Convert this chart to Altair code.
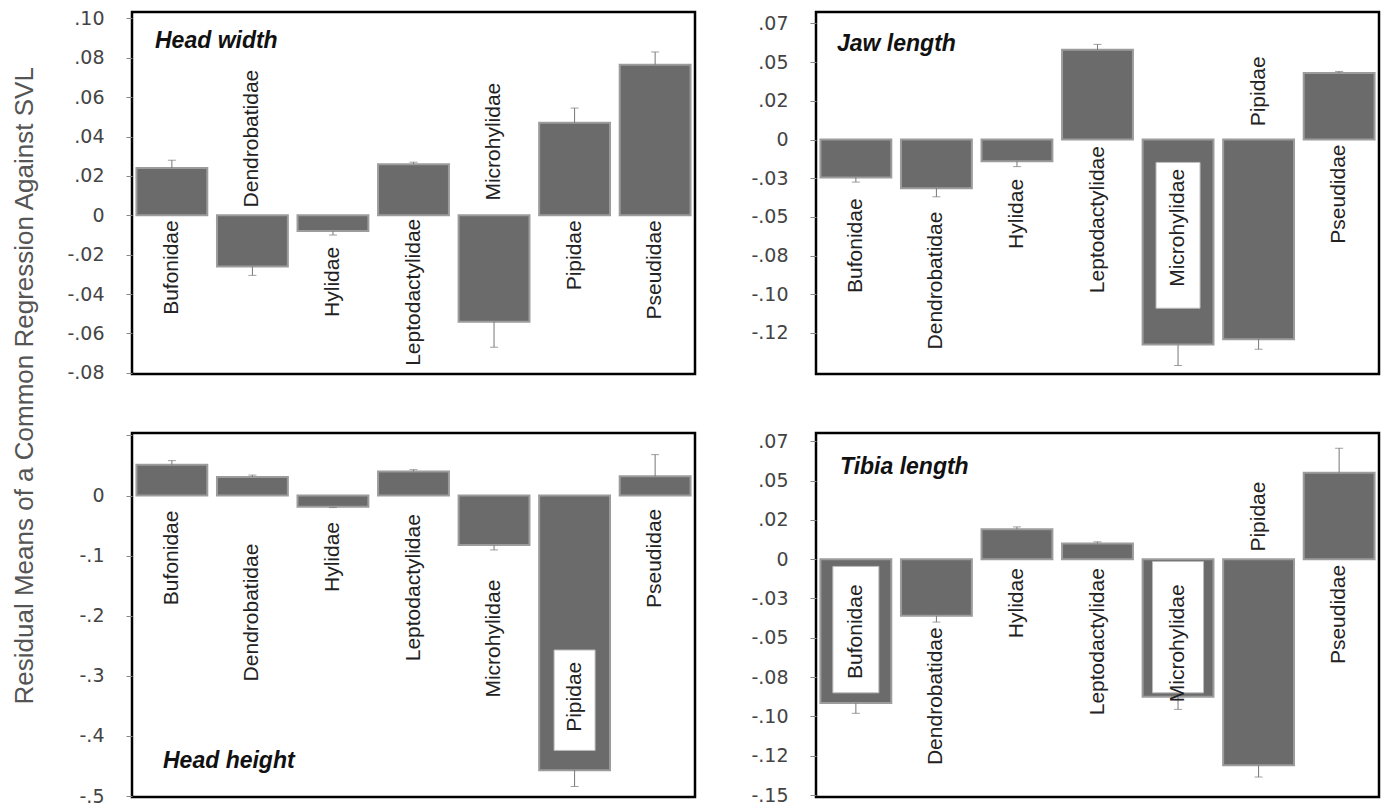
import altair as alt
import pandas as pd

families = ["Bufonidae", "Dendrobatidae", "Hylidae", "Leptodactylidae",
            "Microhylidae", "Pipidae", "Pseudidae"]

# ---- Head width ----
hw_mean = [0.024, -0.026, -0.008, 0.026, -0.054, 0.047, 0.0765]
hw_se = [0.004, 0.0045, 0.002, 0.001, 0.013, 0.0075, 0.0065]
hw_label_at = [-0.0025, 0.004, -0.016, -0.0017, 0.0075, -0.0025, -0.0025]
hw_label_dir = ["down", "up", "down", "down", "up", "down", "down"]
hw_ticks = [0.10, 0.08, 0.06, 0.04, 0.02, 0.0, -0.02, -0.04, -0.06, -0.08]
hw_tick_labels = [".10", ".08", ".06", ".04", ".02", "0", "-.02", "-.04", "-.06", "-.08"]
hw_domain = [-0.0806, 0.1033]
hw_boxes = []  # (family, from, to, width px)

# ---- Jaw length ----
jl_mean = [-0.0245, -0.0315, -0.014, 0.058, -0.1325, -0.129, 0.043]
jl_se = [0.003, 0.0055, 0.0035, 0.0035, 0.0135, 0.0065, 0.001]
jl_label_at = [-0.038, -0.0466, -0.0254, -0.0042, -0.019, 0.0085, -0.0032]
jl_label_dir = ["down", "down", "down", "down", "down", "up", "down"]
jl_ticks = [0.075, 0.05, 0.025, 0.0, -0.025, -0.05, -0.075, -0.10, -0.125]
jl_tick_labels = [".07", ".05", ".02", "0", "-.03", "-.05", "-.08", "-.10", "-.12"]
jl_domain = [-0.1515, 0.0824]
jl_boxes = [("Microhylidae", -0.0148, -0.109, 44)]

# ---- Head height ----
hh_mean = [0.051, 0.031, -0.0185, 0.040, -0.0825, -0.457, 0.032]
hh_se = [0.007, 0.003, 0.0015, 0.003, 0.008, 0.027, 0.036]
hh_label_at = [-0.025, -0.080, -0.044, -0.031, -0.140, -0.2765, -0.022]
hh_label_dir = ["down"] * 7
hh_ticks = [0.1, 0.0, -0.1, -0.2, -0.3, -0.4, -0.5]
hh_tick_labels = ["", "0", "-.1", "-.2", "-.3", "-.4", "-.5"]
hh_domain = [-0.5015, 0.104]
hh_boxes = [("Pipidae", -0.257, -0.424, 41)]

# ---- Tibia length ----
tl_mean = [-0.0915, -0.036, 0.019, 0.010, -0.0875, -0.131, 0.055]
tl_se = [0.0065, 0.004, 0.0015, 0.001, 0.008, 0.0075, 0.0155]
tl_label_at = [-0.016, -0.0433, -0.0057, -0.0057, -0.016, 0.0048, -0.0036]
tl_label_dir = ["down", "down", "down", "down", "down", "up", "down"]
tl_ticks = [0.075, 0.05, 0.025, 0.0, -0.025, -0.05, -0.075, -0.10, -0.125, -0.15]
tl_tick_labels = [".07", ".05", ".02", "0", "-.03", "-.05", "-.08", "-.10", "-.12", "-.15"]
tl_domain = [-0.1512, 0.0802]
tl_boxes = [("Bufonidae", -0.0046, -0.085, 46), ("Microhylidae", -0.0015, -0.085, 51)]

PANEL_W = 563
LABEL_FONT = "Liberation Sans"
TICK_FONT = "DejaVu Sans"


def label_expr(vals, labs):
    expr = "''"
    for v, l in reversed(list(zip(vals, labs))):
        expr = f"abs(datum.value - ({v})) < 0.0001 ? '{l}' : ({expr})"
    return expr


def panel(title, mean, se, lab_at, lab_dir, boxes, domain, ticks, tick_labels,
          title_x, title_y, height):
    df = pd.DataFrame({"family": families, "mean": mean, "se": se,
                       "lab": lab_at, "dir": lab_dir})
    df["err"] = df["mean"] + df["se"] * df["mean"].apply(lambda m: 1 if m >= 0 else -1)
    df["zero"] = 0.0

    x = alt.X("family:N", sort=families, axis=None,
              scale=alt.Scale(paddingInner=0.12, paddingOuter=0.055))
    yscale = alt.Scale(domain=domain, nice=False, zero=False)
    yaxis = alt.Axis(values=ticks, labelExpr=label_expr(ticks, tick_labels), title=None,
                     domain=False, grid=False, ticks=True, tickSize=6, tickColor="#888",
                     tickWidth=1, labelFontSize=19, labelFont=TICK_FONT,
                     labelColor="#444", labelPadding=22)

    base = alt.Chart(df)
    bars = base.mark_bar(fill="#6b6b6b", stroke="#9c9c9c", strokeWidth=2).encode(
        x=x, y=alt.Y("zero:Q", scale=yscale, axis=yaxis), y2="mean:Q")
    rules = base.mark_rule(color="#777", strokeWidth=1).encode(
        x=x, y=alt.Y("mean:Q", scale=yscale), y2="err:Q")
    caps = base.mark_tick(color="#777", thickness=1, size=8, orient="horizontal").encode(
        x=x, y=alt.Y("err:Q", scale=yscale))

    layers = [bars, rules, caps]

    if boxes:
        bdf = pd.DataFrame(boxes, columns=["family", "lo", "hi", "w"])
        bx = alt.Chart(bdf).mark_bar(fill="white", stroke="#bbb", strokeWidth=1).encode(
            x=x, y=alt.Y("lo:Q", scale=yscale), y2="hi:Q",
            size=alt.Size("w:Q", scale=None, legend=None))
        layers.append(bx)

    up = base.transform_filter(alt.datum.dir == "up").mark_text(
        angle=270, align="left", baseline="middle", font=LABEL_FONT, fontSize=21,
        color="#222").encode(x=x, y=alt.Y("lab:Q", scale=yscale), text="family:N")
    down = base.transform_filter(alt.datum.dir == "down").mark_text(
        angle=270, align="right", baseline="middle", font=LABEL_FONT, fontSize=21,
        color="#222").encode(x=x, y=alt.Y("lab:Q", scale=yscale), text="family:N")
    layers += [up, down]

    ttl = alt.Chart(pd.DataFrame({"t": [title]})).mark_text(
        align="left", baseline="alphabetic", font="Liberation Sans Narrow, Liberation Sans",
        fontSize=23, fontStyle="italic", fontWeight="bold", color="#111").encode(
        text="t:N", x=alt.value(title_x), y=alt.value(title_y))
    layers.append(ttl)

    return alt.layer(*layers).properties(width=PANEL_W, height=height)


p1 = panel("Head width", hw_mean, hw_se, hw_label_at, hw_label_dir, hw_boxes, hw_domain,
           hw_ticks, hw_tick_labels, 23, 36, 362)
p2 = panel("Jaw length", jl_mean, jl_se, jl_label_at, jl_label_dir, jl_boxes, jl_domain,
           jl_ticks, jl_tick_labels, 21, 39, 362)
p3 = panel("Head height", hh_mean, hh_se, hh_label_at, hh_label_dir, hh_boxes, hh_domain,
           hh_ticks, hh_tick_labels, 31, 335, 364)
p4 = panel("Tibia length", tl_mean, tl_se, tl_label_at, tl_label_dir, tl_boxes, tl_domain,
           tl_ticks, tl_tick_labels, 24, 41, 364)

chart = alt.concat(p1, p2, p3, p4, columns=2,
                   spacing={"row": 45, "column": 52}).properties(
    title=alt.TitleParams("Residual Means of a Common Regression Against SVL",
                          orient="left", anchor="middle", fontSize=26,
                          font="Liberation Sans", fontWeight="normal", color="#555",
                          offset=28, dx=22),
    padding={"left": 3, "top": 0, "right": 0, "bottom": 0},
    background="white",
).configure_view(stroke="black", strokeWidth=2.5)

chart.save("out.html", embed_options={"renderer": "svg", "actions": False})
